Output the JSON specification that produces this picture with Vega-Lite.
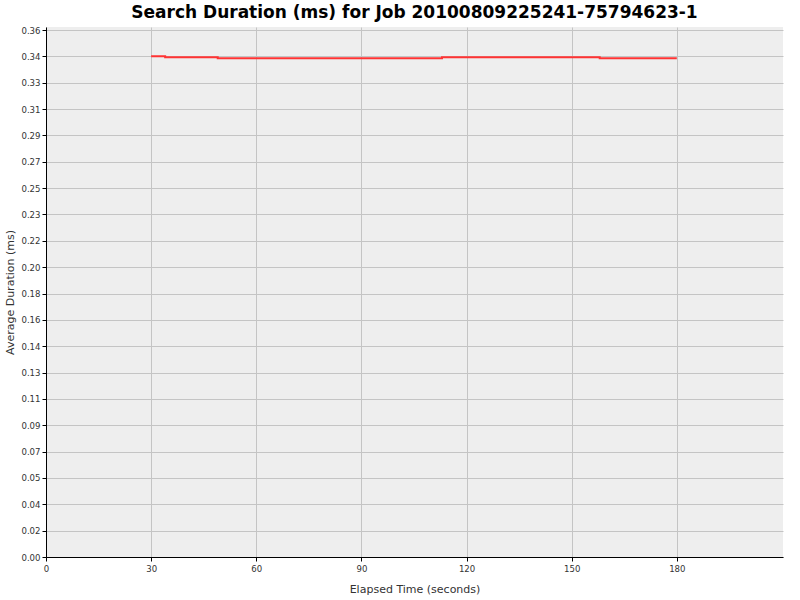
{
  "$schema": "https://vega.github.io/schema/vega-lite/v6.json",
  "autosize": {"type": "none"},
  "width": 737,
  "height": 530,
  "padding": {"left": 46, "top": 27, "right": 17, "bottom": 43},
  "background": "#ffffff",
  "view": {"fill": "#eeeeee", "stroke": null},
  "title": {
    "text": "Search Duration (ms) for Job 20100809225241-75794623-1",
    "font": "DejaVu Sans",
    "fontSize": 17,
    "fontWeight": "bold",
    "color": "#000000",
    "anchor": "middle",
    "offset": 3
  },
  "data": {
    "values": [
      {"elapsed": 30, "duration": 0.3435},
      {"elapsed": 34, "duration": 0.3428},
      {"elapsed": 49, "duration": 0.3421},
      {"elapsed": 113, "duration": 0.3428},
      {"elapsed": 158, "duration": 0.3421},
      {"elapsed": 180, "duration": 0.3421}
    ]
  },
  "mark": {"type": "line", "interpolate": "step-after", "color": "#ff3333", "strokeWidth": 2},
  "encoding": {
    "x": {
      "field": "elapsed",
      "type": "quantitative",
      "title": "Elapsed Time (seconds)",
      "scale": {"domain": [0, 210.3], "nice": false, "zero": false},
      "axis": {"values": [0, 30, 60, 90, 120, 150, 180], "format": "d"}
    },
    "y": {
      "field": "duration",
      "type": "quantitative",
      "title": "Average Duration (ms)",
      "scale": {"domain": [0, 0.3635], "nice": false},
      "axis": {
        "values": [0, 0.01807, 0.03614, 0.05421, 0.07228, 0.09035, 0.10842, 0.12649, 0.14456, 0.16263, 0.1807, 0.19877, 0.21684, 0.23491, 0.25298, 0.27105, 0.28912, 0.30719, 0.32526, 0.34333, 0.3614],
        "format": ".2f"
      }
    }
  },
  "config": {
    "font": "DejaVu Sans",
    "axis": {
      "labelFont": "DejaVu Sans Condensed",
      "labelFontSize": 9.5,
      "labelColor": "#333333",
      "titleFont": "DejaVu Sans",
      "titleFontSize": 11,
      "titleFontWeight": "normal",
      "titleColor": "#333333",
      "domainColor": "#000000",
      "domainWidth": 1,
      "tickColor": "#000000",
      "tickSize": 4,
      "gridColor": "#c4c4c4",
      "gridWidth": 1,
      "labelPadding": 2
    },
    "axisX": {"titlePadding": 11, "labelFlush": false},
    "axisY": {"titlePadding": 5, "labelFlush": false}
  }
}
